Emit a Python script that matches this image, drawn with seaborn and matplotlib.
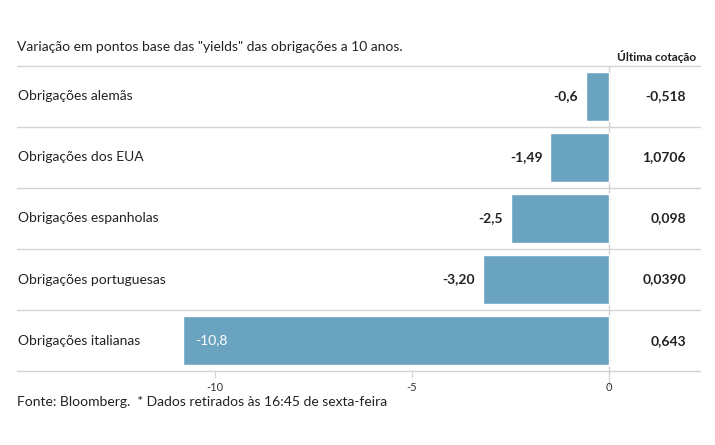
import pandas as pd
import seaborn as sns
import matplotlib.pyplot as plt

paises = ['Obrigações alemãs', 'Obrigações dos EUA', 'Obrigações espanholas',
          'Obrigações portuguesas', 'Obrigações italianas']
variacao = [-0.6, -1.49, -2.5, -3.20, -10.8]
rotulos = ['-0,6', '-1,49', '-2,5', '-3,20', '-10,8']
cotacao = ['-0,518', '1,0706', '0,098', '0,0390', '0,643']
ticks = [-10, -5, 0]

df = pd.DataFrame({'pais': paises, 'variacao': variacao})

sns.set_style('white')
plt.rcParams['font.family'] = ['Lato', 'DejaVu Sans']

fig = plt.figure(figsize=(7.15, 4.45), dpi=100)
ax = fig.add_axes([0.024, 0.166, 0.955, 0.686])

sns.barplot(data=df, y='pais', x='variacao', color='#6aa3bf', saturation=1,
            width=0.8, orient='h', ax=ax)

ax.set_xlim(-15, 2.3)
ax.set_ylim(len(paises) - 0.5, -0.5)
for y in range(len(paises) + 1):
    ax.axhline(y - 0.5, color='#d4d4d4', lw=1, zorder=0, clip_on=False)
ax.axvline(0, ymin=-0.05, ymax=1, color='#d4d4d4', lw=1, zorder=0, clip_on=False)

for sp in ax.spines.values():
    sp.set_visible(False)
ax.set_yticks([])
ax.set_xticks(ticks)
ax.set_xticklabels([str(t) for t in ticks], fontsize=8, color='#333333')
ax.tick_params(axis='x', length=5, color='#d4d4d4', pad=3, bottom=True)
ax.set_xlabel('')
ax.set_ylabel('')

for i, (p, v, r, c) in enumerate(zip(paises, variacao, rotulos, cotacao)):
    ax.text(-14.97, i, p, ha='left', va='center', fontsize=10, color='#222222')
    if v < -6:
        ax.text(v + 0.3, i, r, ha='left', va='center', fontsize=10, color='white')
    else:
        ax.text(v - 0.2, i, r, ha='right', va='center', fontsize=10,
                color='#222222', fontweight='bold')
    ax.text(1.95, i, c, ha='right', va='center', fontsize=10,
            color='#222222', fontweight='bold')

fig.text(0.024, 0.895, 'Variação em pontos base das "yields" das obrigações a 10 anos.',
         fontsize=10, color='#222222', va='center')
fig.text(0.973, 0.872, 'Última cotação', fontsize=8.5, fontweight='bold',
         color='#222222', ha='right', va='center')
fig.text(0.024, 0.097, 'Fonte: Bloomberg.  * Dados retirados às 16:45 de sexta-feira',
         fontsize=10, color='#222222', va='center')

fig.savefig('out.png', dpi=100)
